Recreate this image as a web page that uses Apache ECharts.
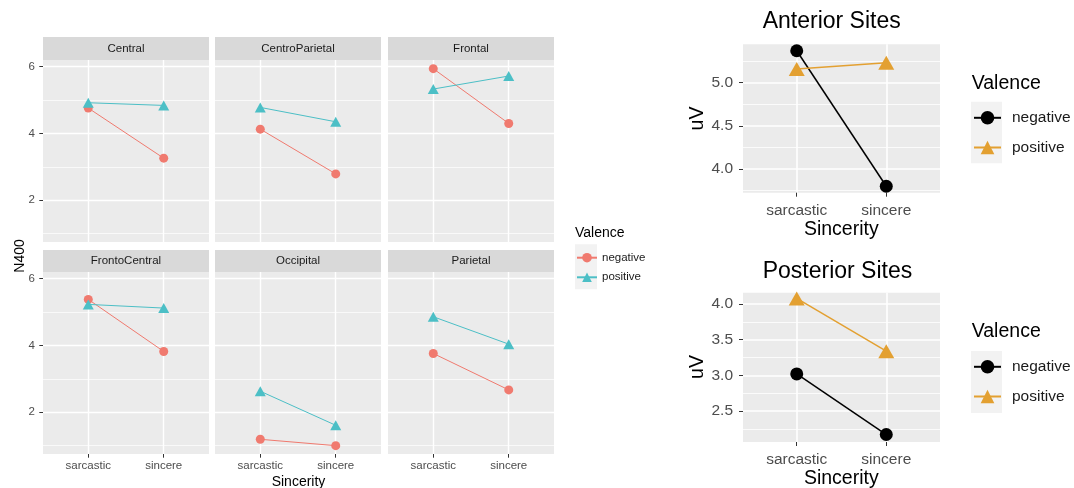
<!DOCTYPE html>
<html><head><meta charset="utf-8">
<script src="https://cdn.jsdelivr.net/npm/echarts@6/dist/echarts.min.js"></script>
<style>html,body{margin:0;padding:0;background:#fff}#c{width:1074px;height:488px}</style>
</head><body><div id="c"></div>
<script>
// ---- data ----
const sincerity = ['sarcastic', 'sincere'];
const valence = ['negative', 'positive'];
const sites = ['Central', 'CentroParietal', 'Frontal', 'FrontoCentral', 'Occipital', 'Parietal'];
const negSarcastic = [4.76, 4.13, 5.94, 5.38, 1.19, 3.76];
const negSincere   = [3.26, 2.79, 4.30, 3.82, 1.00, 2.67];
const posSarcastic = [4.92, 4.78, 5.33, 5.23, 2.63, 4.86];
const posSincere   = [4.84, 4.35, 5.72, 5.12, 1.61, 4.04];
const anteriorNeg  = [5.37, 3.80];
const anteriorPos  = [5.16, 5.23];
const posteriorNeg = [3.02, 2.17];
const posteriorPos = [4.08, 3.34];
const facetYTicks = [2, 4, 6];
const facetYMinor = [1, 3, 5];
const anteriorYTicks = [4.0, 4.5, 5.0];
const anteriorYMinor = [3.75, 4.25, 4.75, 5.25];
const posteriorYTicks = [2.5, 3.0, 3.5, 4.0];
const posteriorYMinor = [2.25, 2.75, 3.25, 3.75];

// ---- styling / layout ----
const FONT = '"Liberation Sans", Arial, sans-serif';
const RED = '#F07A6F', CYAN = '#4CBFC6', BLACK = '#000000', ORANGE = '#E3A031';
const grids = [], xAxes = [], yAxes = [], series = [], graphics = [];

function addPanel(p) {
  const gi = grids.length;
  grids.push({left: p.left, top: p.top, width: p.width, height: p.height, show: true,
    backgroundColor: '#EBEBEB', borderWidth: 0, containLabel: false, outerBoundsMode: 'none'});
  xAxes.push({type: 'value', gridIndex: gi, min: 0.4, max: 2.6,
    axisLine: {show: false},
    axisTick: {show: p.showX, customValues: [1, 2], length: p.tickLen, lineStyle: {color: '#333333', width: 1}},
    axisLabel: {show: p.showX, customValues: [1, 2], margin: p.xMargin, fontSize: p.tickFont,
      color: '#4D4D4D', fontFamily: FONT, formatter: v => sincerity[Math.round(v) - 1]},
    splitLine: {show: true, lineStyle: {color: '#FFFFFF', width: p.majorW}}});
  const yi = yAxes.length;
  yAxes.push({type: 'value', gridIndex: gi, min: p.ymin, max: p.ymax, position: 'left',
    axisLine: {show: false},
    axisTick: {show: p.showY, customValues: p.yTicks, length: p.tickLen, lineStyle: {color: '#333333', width: 1}},
    axisLabel: {show: p.showY, customValues: p.yTicks, margin: p.yMargin, fontSize: p.tickFont,
      color: '#4D4D4D', fontFamily: FONT, formatter: p.yFmt},
    splitLine: {show: true, lineStyle: {color: '#FFFFFF', width: p.majorW}}});
  yAxes.push({type: 'value', gridIndex: gi, min: p.ymin, max: p.ymax, position: 'left',
    axisLine: {show: false},
    axisTick: {show: false, customValues: p.yMinor},
    axisLabel: {show: false},
    splitLine: {show: true, lineStyle: {color: '#FFFFFF', width: p.minorW}}});
  const cols = [p.negColor, p.posColor];
  const vals = [p.neg, p.pos];
  valence.forEach((name, k) => {
    series.push({type: 'line', name: name, xAxisIndex: gi, yAxisIndex: yi,
      data: vals[k].map((v, j) => [j + 1, v]),
      symbol: k === 0 ? 'circle' : 'triangle',
      symbolSize: k === 0 ? p.circ : p.tri,
      showSymbol: true, animation: false, silent: true,
      itemStyle: {color: cols[k], opacity: 1},
      lineStyle: {color: cols[k], width: p.lineW},
      z: 3 + k});
  });
}

function txt(x, y, s, size, opts) {
  graphics.push(Object.assign({type: 'text', x: x, y: y, z: 10,
    style: {text: s, fontSize: size, fontFamily: FONT, fill: (opts && opts.fill) || '#000000',
      textAlign: (opts && opts.align) || 'center', textVerticalAlign: 'middle',
      align: (opts && opts.align) || 'center', verticalAlign: 'middle'}},
    (opts && opts.rot) ? {rotation: opts.rot} : {}));
}
function rect(x, y, w, h, fill) {
  graphics.push({type: 'rect', z: 0, shape: {x: x, y: y, width: w, height: h}, style: {fill: fill}});
}

// facet panels
const colLeft = [43, 215, 388];
const rowTop = [60, 272];
const stripTop = [37, 250];
sites.forEach((site, i) => {
  const r = Math.floor(i / 3), c = i % 3;
  addPanel({left: colLeft[c], top: rowTop[r], width: 166, height: 182,
    ymin: 0.75, ymax: 6.2, yTicks: facetYTicks, yMinor: facetYMinor,
    showX: r === 1, showY: c === 0, tickLen: 3.7, xMargin: 6, yMargin: 8, tickFont: 11.5,
    yFmt: v => String(v), majorW: 1.4, minorW: 0.7,
    neg: [negSarcastic[i], negSincere[i]], pos: [posSarcastic[i], posSincere[i]],
    negColor: RED, posColor: CYAN, circ: 9, tri: [11, 10], lineW: 1});
  rect(colLeft[c], stripTop[r], 166, rowTop[r] - stripTop[r], '#D9D9D9');
  txt(colLeft[c] + 83, (stripTop[r] + rowTop[r]) / 2, site, 11.5, {fill: '#1A1A1A'});
});
txt(298.5, 482, 'Sincerity', 14);
txt(20, 256, 'N400', 14, {rot: Math.PI / 2});
txt(575, 233.3, 'Valence', 14, {align: 'left'});
rect(575, 244.3, 22, 45, '#F2F2F2');

// right panels
addPanel({left: 743, top: 44.3, width: 197, height: 148.4,
  ymin: 3.725, ymax: 5.445, yTicks: anteriorYTicks, yMinor: anteriorYMinor,
  showX: true, showY: true, tickLen: 4, xMargin: 10, yMargin: 10, tickFont: 15.5,
  yFmt: v => v.toFixed(1), majorW: 1.6, minorW: 0.8,
  neg: anteriorNeg, pos: anteriorPos, negColor: BLACK, posColor: ORANGE,
  circ: 13, tri: [16, 14], lineW: 1.5});
addPanel({left: 743, top: 292.7, width: 197, height: 149.3,
  ymin: 2.065, ymax: 4.16, yTicks: posteriorYTicks, yMinor: posteriorYMinor,
  showX: true, showY: true, tickLen: 4, xMargin: 10, yMargin: 10, tickFont: 15.5,
  yFmt: v => v.toFixed(1), majorW: 1.6, minorW: 0.8,
  neg: posteriorNeg, pos: posteriorPos, negColor: BLACK, posColor: ORANGE,
  circ: 13, tri: [16, 14], lineW: 1.5});
txt(762.7, 21.7, 'Anterior Sites', 23, {align: 'left'});
txt(762.7, 271.7, 'Posterior Sites', 23, {align: 'left'});
txt(841.3, 230, 'Sincerity', 19.5);
txt(841.3, 479, 'Sincerity', 19.5);
txt(698, 118.5, 'uV', 19.5, {rot: Math.PI / 2});
txt(698, 367, 'uV', 19.5, {rot: Math.PI / 2});
txt(971.7, 83.3, 'Valence', 19.5, {align: 'left'});
txt(971.7, 331.7, 'Valence', 19.5, {align: 'left'});
rect(971, 101.7, 31, 61.6, '#F2F2F2');
rect(971, 351, 31, 62, '#F2F2F2');

function legendCfg(left, top, iw, ih, gap, fs, negC, posC, textPad) {
  return {show: true, orient: 'vertical', left: left, top: top, padding: 0,
    itemWidth: iw, itemHeight: ih, itemGap: gap, selectedMode: false, z: 20,
    textStyle: {fontSize: fs, color: '#1A1A1A', fontFamily: FONT, padding: [0, 0, 0, textPad]},
    data: [
      {name: 'negative', itemStyle: {color: negC}, lineStyle: {color: negC}},
      {name: 'positive', itemStyle: {color: posC}, lineStyle: {color: posC}}
    ]};
}

const chart = echarts.init(document.getElementById('c'), null, {renderer: 'canvas'});
chart.setOption({
  animation: false,
  backgroundColor: '#FFFFFF',
  textStyle: {fontFamily: FONT},
  grid: grids, xAxis: xAxes, yAxis: yAxes, series: series,
  legend: [
    legendCfg(576, 251.7, 20, 12, 7.6, 11.5, RED, CYAN, 0),
    legendCfg(973, 109.8, 27, 17, 13.7, 15.5, BLACK, ORANGE, 6),
    legendCfg(973, 358.8, 27, 17, 13.7, 15.5, BLACK, ORANGE, 6)
  ],
  graphic: {elements: graphics}
});
</script></body></html>
